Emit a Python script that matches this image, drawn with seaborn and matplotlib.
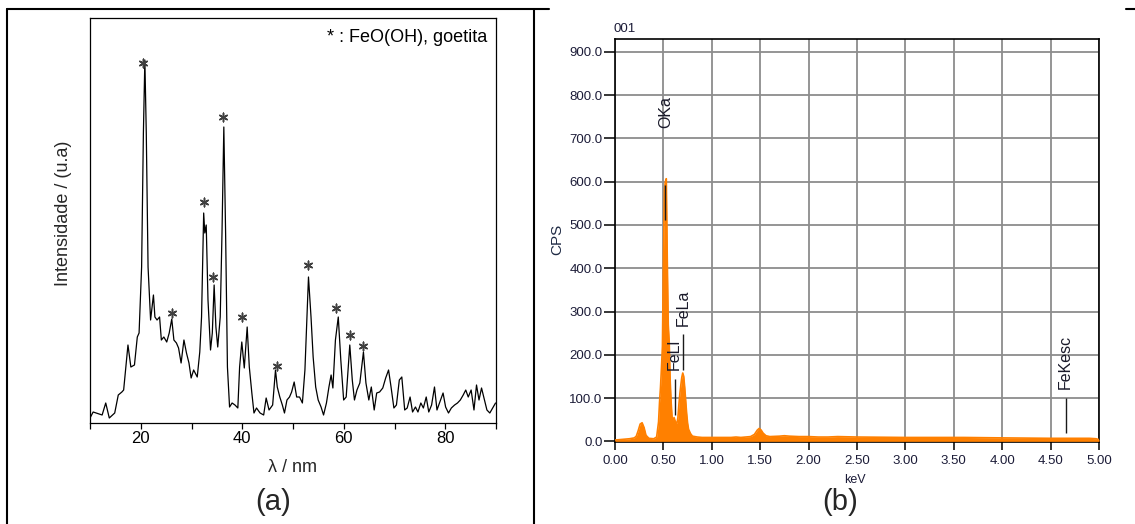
import numpy as np
import pandas as pd
import matplotlib
matplotlib.use("Agg")
import matplotlib.pyplot as plt
import seaborn as sns
from matplotlib.lines import Line2D

# ---------------- (a) XRD pattern ----------------
two_theta = [10.0, 10.62, 12.39, 13.10, 13.80, 14.87, 15.57, 16.28, 16.63, 17.48,
             18.05, 18.76, 19.32, 19.67, 20.17, 20.52, 20.81, 21.09, 21.44, 21.94,
             22.50, 22.79, 23.21, 23.71, 24.06, 24.55, 25.12, 25.61, 26.11, 26.53,
             27.03, 27.45, 27.95, 28.51, 29.01, 29.50, 29.93, 30.42, 31.13, 31.63,
             31.98, 32.40, 32.62, 32.90, 33.25, 33.75, 34.10, 34.46, 34.81, 35.17,
             35.66, 36.01, 36.37, 36.72, 37.08, 37.50, 38.00, 38.56, 39.13, 39.48,
             39.91, 40.40, 40.97, 41.39, 41.89, 42.31, 42.81, 43.51, 44.22, 44.71,
             45.28, 45.99, 46.55, 46.90, 47.40, 47.90, 48.32, 48.81, 49.31, 49.73,
             50.23, 50.72, 51.29, 51.85, 52.35, 53.05, 53.55, 53.97, 54.47, 54.96,
             55.53, 56.02, 56.59, 57.08, 57.51, 57.86, 58.36, 58.92, 59.42, 59.98,
             60.48, 61.19, 61.68, 62.11, 62.60, 63.17, 63.88, 64.37, 64.94, 65.43,
             66.00, 66.49, 67.06, 67.69, 68.26, 68.83, 69.32, 69.88, 70.38, 70.95,
             71.44, 72.01, 72.50, 73.07, 73.56, 74.13, 74.62, 75.19, 75.69, 76.25,
             76.75, 77.31, 77.88, 78.37, 78.87, 79.57, 80.07, 80.64, 81.20, 81.84,
             82.41, 82.97, 83.54, 84.04, 84.53, 85.10, 85.66, 86.16, 86.65, 87.15,
             87.72, 88.21, 88.78, 89.34, 89.91]
intensity = [6, 12, 9, 21, 6, 11, 29, 32, 34, 79,
             57, 59, 87, 91, 157, 291, 364, 291, 157, 104,
             129, 107, 104, 107, 84, 87, 82, 91, 105, 84,
             81, 76, 61, 84, 71, 61, 46, 54, 47, 72,
             107, 211, 191, 199, 124, 74, 91, 139, 97, 77,
             107, 191, 297, 191, 57, 17, 21, 19, 16, 57,
             82, 56, 97, 57, 31, 11, 16, 11, 9, 26,
             14, 19, 54, 37, 27, 19, 11, 24, 27, 32,
             42, 27, 27, 21, 54, 147, 107, 67, 37, 24,
             17, 9, 21, 37, 49, 36, 84, 107, 64, 24,
             27, 79, 44, 24, 34, 41, 72, 41, 24, 37,
             14, 31, 32, 36, 46, 54, 37, 16, 19, 44,
             47, 14, 16, 27, 12, 17, 12, 21, 16, 27,
             12, 19, 37, 14, 21, 31, 17, 11, 16, 19,
             21, 24, 29, 34, 27, 34, 14, 39, 24, 36,
             24, 14, 11, 16, 21]
star_theta = [20.52, 26.11, 32.40, 34.31, 36.15, 39.98, 46.90, 52.98, 58.57, 61.19, 63.74]
star_int = [361, 111, 222, 147, 307, 107, 58, 159, 116, 89, 78]
xrd_major_ticks = [20, 40, 60, 80]
xrd_minor_ticks = [10, 30, 50, 70, 90]

# ---------------- (b) EDS spectrum ----------------
energy = [0.00, 0.05, 0.10, 0.15, 0.20, 0.22, 0.24, 0.26, 0.28, 0.30,
          0.32, 0.35, 0.40, 0.43, 0.45, 0.46, 0.47, 0.48, 0.49, 0.50,
          0.51, 0.52, 0.53, 0.54, 0.55, 0.56, 0.57, 0.58, 0.59, 0.60,
          0.61, 0.62, 0.63, 0.64, 0.65, 0.66, 0.67, 0.68, 0.69, 0.70,
          0.71, 0.72, 0.73, 0.74, 0.75, 0.76, 0.78, 0.80, 0.85, 0.90,
          1.00, 1.10, 1.20, 1.25, 1.30, 1.40, 1.44, 1.47, 1.49, 1.51,
          1.53, 1.56, 1.60, 1.70, 1.75, 1.80, 1.90, 2.00, 2.10, 2.20,
          2.30, 2.50, 3.00, 3.30, 3.50, 3.60, 4.00, 4.50, 4.60, 4.70,
          4.90, 4.97, 5.00]
counts = [3, 4, 5, 6, 8, 12, 25, 40, 43, 32,
          14, 7, 6, 10, 45, 90, 125, 170, 220, 420,
          580, 600, 607, 420, 270, 230, 140, 90, 55, 48,
          55, 48, 42, 42, 55, 85, 110, 130, 148, 158,
          150, 125, 95, 65, 42, 28, 18, 12, 10, 9,
          9, 9, 9, 10, 9, 11, 16, 26, 30, 26,
          19, 13, 11, 12, 13, 12, 11, 11, 10, 10,
          11, 10, 9, 9, 9, 9, 8, 7, 7, 7,
          7, 6, 4]
line_names = ["OKa", "FeLl", "FeLa", "FeKesc"]
line_energy = [0.52, 0.615, 0.705, 4.655]
line_low = [511, 62, 166, 20]
line_high = [592, 143, 248, 100]
label_base = [724, 166, 267, 120]
eds_xticks = [0.0, 0.5, 1.0, 1.5, 2.0, 2.5, 3.0, 3.5, 4.0, 4.5, 5.0]
eds_yticks = [0, 100, 200, 300, 400, 500, 600, 700, 800, 900]

# ---------------- figure ----------------
sns.set_theme(style="white")
plt.rcParams["font.family"] = ["Liberation Sans", "DejaVu Sans"]

W, H = 1135, 524
fig = plt.figure(figsize=(W / 100, H / 100), dpi=100)
fig.patch.set_facecolor("white")


def rect(l, t, r, b):
    return [l / W, 1 - b / H, (r - l) / W, (b - t) / H]


def fx(x):
    return x / W


def fy(y):
    return 1 - y / H


# ----- panel (a)
axa = fig.add_axes(rect(90, 18, 496, 423))
xrd = pd.DataFrame({"theta": two_theta, "I": intensity})
sns.lineplot(data=xrd, x="theta", y="I", ax=axa, color="black", lw=0.9,
             estimator=None, sort=False)
axa.scatter(star_theta, star_int, marker=(6, 2, 0), s=38, color="#404040",
            linewidths=1.1, zorder=5)
axa.set_xlim(10, 90)
axa.set_ylim(1, 406)
axa.set_xticks(xrd_major_ticks)
axa.set_xticks(xrd_minor_ticks, minor=True)
axa.set_yticks([])
axa.tick_params(axis="x", which="both", direction="out", length=4, width=0.9,
                bottom=True, color="black", labelsize=12, pad=2, labelcolor="black")
for s in axa.spines.values():
    s.set_color("black")
    s.set_linewidth(0.9)
axa.set_xlabel("")
axa.set_ylabel("")
axa.text(0.978, 0.952, "* : FeO(OH), goetita", transform=axa.transAxes,
         ha="right", va="center", fontsize=13, color="black")
fig.text(fx(293), fy(467), "λ / nm", ha="center", va="center", fontsize=13)
fig.text(fx(64), fy(213), "Intensidade / (u.a)", ha="center", va="center",
         rotation=90, fontsize=13)
fig.text(fx(273), fy(502), "(a)", ha="center", va="center", fontsize=21)

# ----- panel (b)
axb = fig.add_axes(rect(615, 38.5, 1099, 442))
eds = pd.DataFrame({"E": energy, "C": counts})
axb.fill_between(eds["E"], eds["C"], 0, color="#ff8000", lw=0, zorder=3)
sns.lineplot(data=eds, x="E", y="C", ax=axb, color="#ff8000", lw=1.2,
             estimator=None, sort=False, zorder=3)
axb.set_xlim(0, 5)
axb.set_ylim(-1.5, 931)
axb.set_xticks(eds_xticks)
axb.set_yticks(eds_yticks)
axb.set_xticklabels([f"{v:.2f}" for v in eds_xticks])
axb.set_yticklabels([f"{v:.1f}" for v in eds_yticks])
axb.grid(True, color="#8c8c8c", lw=1.3)
axb.set_axisbelow(True)
axb.tick_params(axis="x", direction="out", length=6, width=1.1, bottom=True,
                color="black", labelsize=9.5, pad=3.5, labelcolor="#1c1c38")
axb.tick_params(axis="y", direction="out", length=8, width=1.1, left=True,
                color="black", labelsize=9.5, pad=1, labelcolor="#1c1c38")
for s in axb.spines.values():
    s.set_color("black")
    s.set_linewidth(1.2)
axb.set_xlabel("")
axb.set_ylabel("")
axb.vlines(line_energy, line_low, line_high, colors="#1a1a1a", lw=1.0, zorder=4)
for name, e, yb in zip(line_names, line_energy, label_base):
    axb.text(e, yb, name, rotation=90, ha="center", va="bottom", fontsize=11.5,
             color="#1a1a2a", zorder=5)
fig.text(fx(557), fy(239), "CPS", rotation=90, ha="center", va="center",
         fontsize=11, color="#1f2a44")
fig.text(fx(855), fy(480), "keV", ha="center", va="center", fontsize=9,
         color="#1c1c38")
fig.text(fx(614), fy(29), "001", ha="left", va="center", fontsize=9.5,
         color="#1c1c38")
fig.text(fx(840), fy(502), "(b)", ha="center", va="center", fontsize=21)

# ----- table frame
frame = dict(transform=fig.transFigure, color="black", lw=1.5)
fig.add_artist(Line2D([fx(7), fx(7)], [fy(9), fy(524)], **frame))
fig.add_artist(Line2D([fx(7), fx(549)], [fy(9), fy(9)], **frame))
fig.add_artist(Line2D([fx(534), fx(534)], [fy(9), fy(524)], **frame))
fig.add_artist(Line2D([fx(1126), fx(1135)], [fy(9), fy(9)], **frame))

fig.savefig("out.png", dpi=100, facecolor="white")
